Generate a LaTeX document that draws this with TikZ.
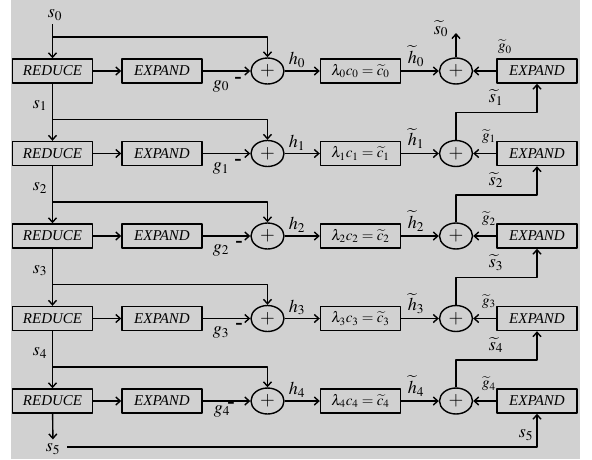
\documentclass[tikz,border=0pt]{standalone}
\usepackage{mathptmx}
\usepackage{fontspec}
\setmainfont{Liberation Serif}
\usetikzlibrary{arrows.meta,shapes.geometric}
\definecolor{bgc}{RGB}{209,209,209}
\begin{document}
\begin{tikzpicture}[x=1pt,y=-1pt,line join=round,line width=1.4pt,
	>={Straight Barb[length=4.5pt,width=8pt]},
	font=\fontsize{18}{20}\selectfont,
	blk/.style={draw,minimum width=80pt,minimum height=24pt,inner sep=0pt,
		font=\fontsize{15}{17}\selectfont},
	opb/.style={blk,font=\fontsize{15}{17}\selectfont\itshape},
	sum/.style={draw,ellipse,minimum width=33pt,minimum height=26pt,inner sep=0pt,
		font=\fontsize{19}{21}\selectfont},
	neg/.style={font=\fontsize{22}{22}\selectfont\bfseries,inner sep=0pt}]
	\useasboundingbox (0,0) rectangle (592,459);
	\fill[bgc] (11,0) rectangle (580,459);
	% rows of blocks
	\foreach \i in {0,...,4}{
		\pgfmathsetmacro\y{71+82.5*\i}
		\node[opb] (R\i) at (52.5,\y) {REDUCE};
		\node[opb] (E\i) at (162,\y) {EXPAND};
		\node[sum] (P\i) at (267.5,\y) {$+$};
		\node[blk] (L\i) at (360.5,\y) {$\lambda_\i c_\i=\widetilde{c}_\i$};
		\node[sum] (Q\i) at (456,\y) {$+$};
		\node[opb] (X\i) at (537,\y) {EXPAND};
		\coordinate (B\i) at (52.5,\y-34);
		\draw[->] (R\i) -- (E\i);
		\draw[->] (E\i) -- (P\i);
		\draw[->] (P\i) -- (L\i);
		\draw[->] (L\i) -- (Q\i);
		\draw[->] (X\i) -- (Q\i);
		\draw[->] (B\i) -| (P\i);
		\node at (297,\y-11) {$h_\i$};
		\node at (416,\y-15) {$\widetilde{h}_\i$};
	}
	% input s_0
	\node (s0) at (55,15) {$s_0$};
	\draw[->] (R0|-s0.south) -- (R0);
	\foreach \i [evaluate=\i as \j using int(\i-1)] in {1,...,4}{
		\pgfmathsetmacro\y{71+82.5*\i}
		\draw[->] (R\j) -- (R\i);
		\node (s\i) at (40,\y-48) {$s_\i$};
		\coordinate (C\i) at (456,\y-41);
		\draw[->] (Q\i) -- (C\i) -| (X\j);
		\node at (496,\y-56) {$\widetilde{s}_\i$};
		\node[font=\fontsize{15}{17}\selectfont] at (489,\y-17) {$\widetilde{g}_\i$};
	}
	% g labels and minus signs
	\foreach \i/\gx/\gy/\mx/\my in {0/221/15/238/9,1/221/15/238/9,2/221/14/239/8,3/221/14/239/8,4/222/10/231/4}{
		\pgfmathsetmacro\y{71+82.5*\i}
		\node at (\gx,\y+\gy) {$g_\i$};
		\node[neg] at (\mx,\y+\my) {-};
	}
	% output s~_0
	\coordinate (T0) at (456,33);
	\draw[->] (Q0) -- (T0);
	\node at (441,29) {$\widetilde{s}_0$};
	\node[font=\fontsize{15}{17}\selectfont] at (505,47) {$\widetilde{g}_0$};
	% last level s_5
	\node (s5) at (53,449) {$s_5$};
	\draw[->] (R4) -- (s5);
	\coordinate (F) at (67,447);
	\draw[->] (F) -| (X4);
	\node (s5r) at (526,435) {$s_5$};
\end{tikzpicture}
\end{document}
